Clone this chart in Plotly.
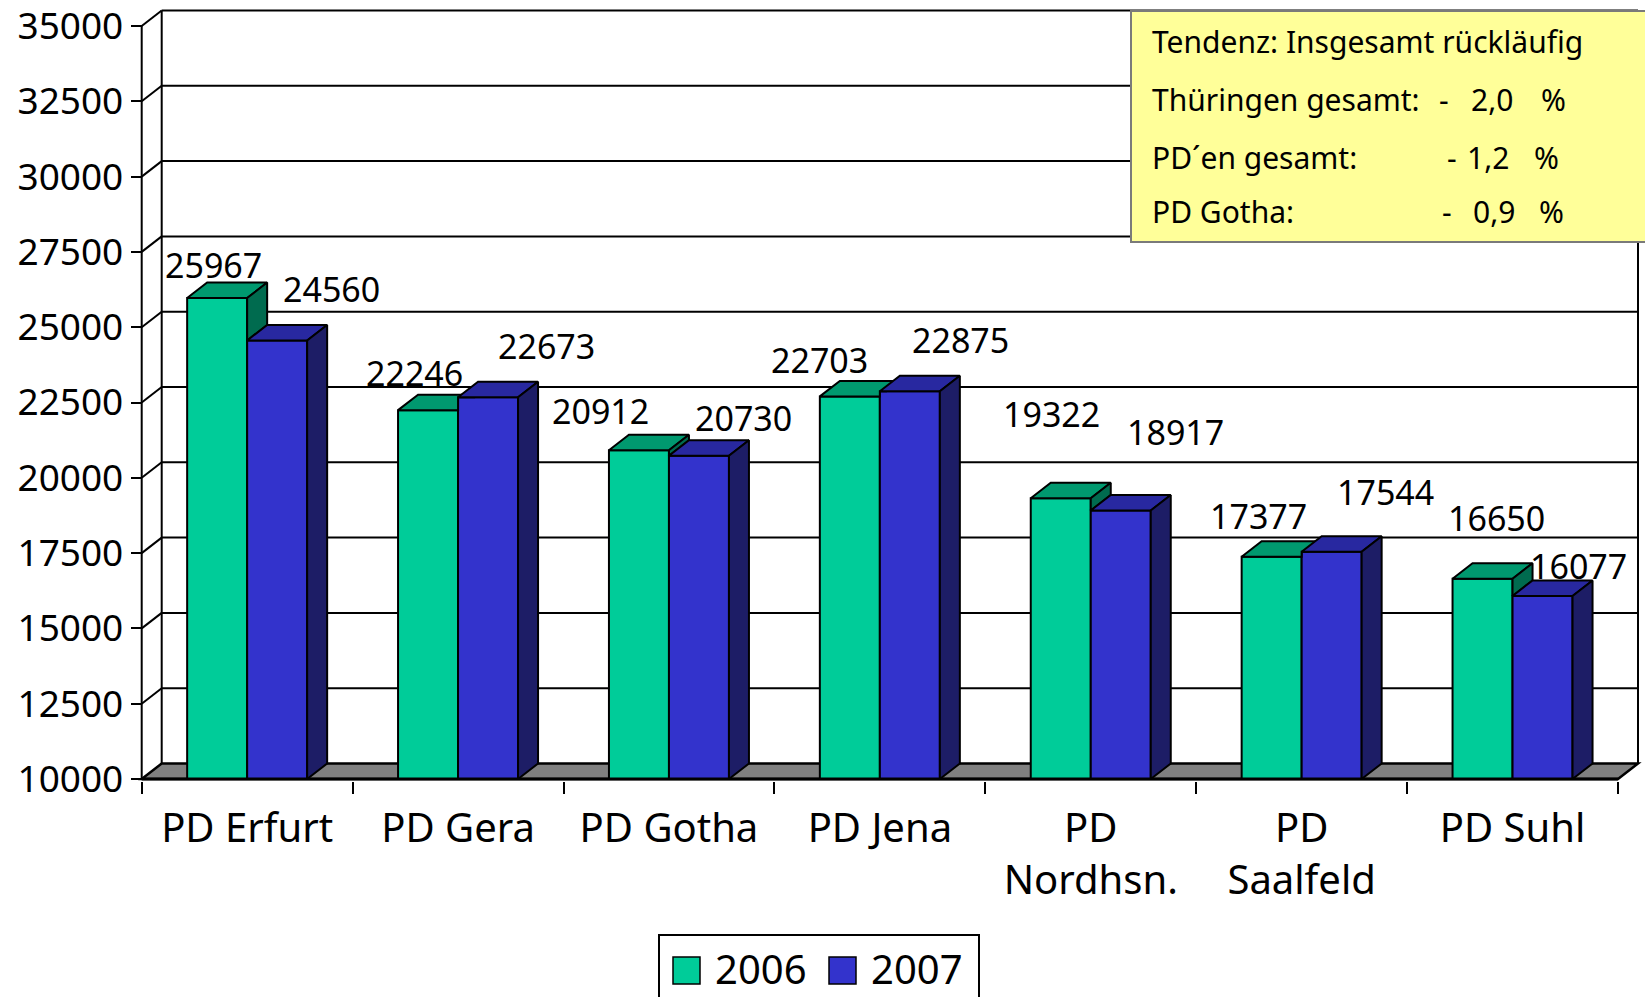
import plotly.graph_objects as go

# ---------------- data ----------------
categories = ["PD Erfurt", "PD Gera", "PD Gotha", "PD Jena", "PD<br>Nordhsn.", "PD<br>Saalfeld", "PD Suhl"]
values_2006 = [25967, 22246, 20912, 22703, 19322, 17377, 16650]
values_2007 = [24560, 22673, 20730, 22875, 18917, 17544, 16077]
series_names = ["2006", "2007"]
y_ticks = [10000, 12500, 15000, 17500, 20000, 22500, 25000, 27500, 30000, 32500, 35000]
y_tick_text = [str(v) for v in y_ticks]
box_labels = ["Tendenz: Insgesamt rückläufig", "Thüringen gesamt:", "PD´en gesamt:", "PD Gotha:"]
box_values = ["", "2,0", "1,2", "0,9"]

# label nudges (pixels) for the value labels, as placed in the original
lbl_dx_2006 = [-4, -14, -38, -30, -9, -13, 14]
lbl_dy_2006 = [33, 37, 39, 36, 84, 41, 61]
lbl_dx_2007 = [54, 58, 45, 51, 55, 54, 36]
lbl_dy_2007 = [51, 51, 38, 51, 78, 60, 30]

# ---------------- geometry ----------------
FONT = "Noto Sans"
W_FIG, H_FIG = 1645, 997
X0 = 141.7          # px of first category boundary
CW = 210.9          # px per category
Y10 = 779.0         # px of y_min on front plane
PPU = 0.03012       # px per value unit
DPX, DPY = 20.0, 15.5   # depth offset in px
L, R, T, B = 136.0, 1643.0, 6.0, 781.0
PW, PH = R - L, B - T

y_min, y_max = y_ticks[0], y_ticks[-1]
n = len(categories)
dx = DPX / CW
dy = DPY / PPU
bw = 60.0 / CW      # bar width in category units

x_range = [(L - X0) / CW, (R - X0) / CW]
y_range = [y_min - (B - Y10) / PPU, y_min + (Y10 - T) / PPU]

def pxx(px):
    return (px - L) / PW

def pxy(py):
    return (B - py) / PH

C06 = dict(front="#00CC99", top="#00996F", side="#006B4F")
C07 = dict(front="#3333CC", top="#2828A0", side="#1D1D66")

fig = go.Figure()

# front faces as real bars
centers = [i + 0.5 for i in range(n)]
fig.add_trace(go.Bar(x=[c - bw / 2 for c in centers], y=[v - y_min for v in values_2006], base=y_min,
                     width=bw, name=series_names[0], customdata=values_2006,
                     hovertemplate="%{customdata}<extra>2006</extra>",
                     marker=dict(color=C06["front"], line=dict(color="black", width=2)), showlegend=False))
fig.add_trace(go.Bar(x=[c + bw / 2 for c in centers], y=[v - y_min for v in values_2007], base=y_min,
                     width=bw, name=series_names[1], customdata=values_2007,
                     hovertemplate="%{customdata}<extra>2007</extra>",
                     marker=dict(color=C07["front"], line=dict(color="black", width=2)), showlegend=False))

# 3D top / side faces
g_top_x, g_top_y, g_side_x, g_side_y = [], [], [], []
b_top_x, b_top_y, b_side_x, b_side_y = [], [], [], []

def add_poly(xs, ys, pts):
    for (a, b) in pts:
        xs.append(a)
        ys.append(b)
    xs.append(pts[0][0]); ys.append(pts[0][1])
    xs.append(None); ys.append(None)

for i in range(n):
    c = centers[i]
    gL, gR, bR = c - bw, c, c + bw
    gt, bt = values_2006[i], values_2007[i]
    # green top (clipped by blue front face where blue is taller)
    if bt <= gt:
        pts = [(gL, gt), (gR, gt), (gR + dx, gt + dy), (gL + dx, gt + dy)]
    elif bt >= gt + dy:
        pts = [(gL, gt), (gR, gt), (gR, gt + dy), (gL + dx, gt + dy)]
    else:
        xi = gR + (bt - gt) / dy * dx
        pts = [(gL, gt), (gR, gt), (gR, bt), (xi, bt), (gR + dx, gt + dy), (gL + dx, gt + dy)]
    add_poly(g_top_x, g_top_y, pts)
    # green side (visible part above blue)
    if gt > bt:
        add_poly(g_side_x, g_side_y, [(gR, gt), (gR + dx, gt + dy), (gR + dx, bt + dy), (gR, bt)])
    # blue top and side
    add_poly(b_top_x, b_top_y, [(gR, bt), (bR, bt), (bR + dx, bt + dy), (gR + dx, bt + dy)])
    add_poly(b_side_x, b_side_y, [(bR, y_min), (bR, bt), (bR + dx, bt + dy), (bR + dx, y_min + dy)])

for xs, ys, col in [(g_top_x, g_top_y, C06["top"]), (g_side_x, g_side_y, C06["side"]),
                    (b_top_x, b_top_y, C07["top"]), (b_side_x, b_side_y, C07["side"])]:
    fig.add_trace(go.Scatter(x=xs, y=ys, mode="lines", fill="toself", fillcolor=col,
                             line=dict(color="black", width=2), hoverinfo="skip", showlegend=False))

# ---------------- walls, floor, gridlines ----------------
shapes = []
LW = 2
for v in y_ticks[1:]:
    shapes.append(dict(type="line", xref="x", yref="y", x0=dx, x1=n + dx, y0=v + dy, y1=v + dy,
                       line=dict(color="black", width=LW), layer="below"))
    shapes.append(dict(type="line", xref="x", yref="y", x0=0, x1=dx, y0=v, y1=v + dy,
                       line=dict(color="black", width=LW), layer="below"))
shapes.append(dict(type="line", xref="x", yref="y", x0=dx, x1=dx, y0=y_min + dy, y1=y_max + dy,
                   line=dict(color="black", width=LW), layer="below"))
shapes.append(dict(type="line", xref="x", yref="y", x0=n + dx, x1=n + dx, y0=y_min + dy, y1=y_max + dy,
                   line=dict(color="black", width=LW), layer="below"))
shapes.append(dict(type="line", xref="x", yref="y", x0=0, x1=0, y0=y_min, y1=y_max,
                   line=dict(color="black", width=LW), layer="below"))
shapes.append(dict(type="path", xref="x", yref="y",
                   path=f"M {0},{y_min} L {n},{y_min} L {n + dx},{y_min + dy} L {dx},{y_min + dy} Z",
                   fillcolor="#808080", line=dict(color="black", width=2.5), layer="below"))
shapes.append(dict(type="line", xref="x", yref="y", x0=0, x1=n, y0=y_min, y1=y_min,
                   line=dict(color="black", width=3), layer="above"))

# yellow info box
shapes.append(dict(type="rect", xref="paper", yref="paper", x0=pxx(1131), x1=pxx(1652), y0=pxy(242), y1=pxy(11),
                   fillcolor="#FFFF99", line=dict(color="#7A7A7A", width=2), layer="above"))

# legend (drawn)
shapes.append(dict(type="rect", xref="paper", yref="paper", x0=pxx(659), x1=pxx(979), y0=pxy(1005), y1=pxy(935),
                   fillcolor="white", line=dict(color="black", width=2), layer="above"))
for x0p, col in [(673, C06["front"]), (829, C07["front"])]:
    shapes.append(dict(type="rect", xref="paper", yref="paper", x0=pxx(x0p), x1=pxx(x0p + 27),
                       y0=pxy(984), y1=pxy(957), fillcolor=col, line=dict(color="black", width=1.5), layer="above"))

annotations = []
for txt, xl in [(series_names[0], 713), (series_names[1], 869)]:
    annotations.append(dict(text=txt, xref="paper", yref="paper", x=pxx(xl), y=pxy(968), xanchor="left",
                            yanchor="middle", showarrow=False, font=dict(family=FONT, size=40, color="black")))

# info box text
line_y = [41, 99, 157, 212]
BF = 30
for k, txt in enumerate(box_labels):
    annotations.append(dict(text=txt, xref="paper", yref="paper", x=pxx(1150), y=pxy(line_y[k]), xanchor="left",
                            yanchor="middle", showarrow=False, font=dict(family=FONT, size=BF, color="black")))
dash_x = [0, 1444, 1452, 1447]
num_right = [0, 1515, 1511, 1517]
pct_left = [0, 1539, 1532, 1537]
for k in range(1, 4):
    annotations.append(dict(text="-", xref="paper", yref="paper", x=pxx(dash_x[k]), y=pxy(line_y[k]),
                            xanchor="center", yanchor="middle", showarrow=False,
                            font=dict(family=FONT, size=BF, color="black")))
    annotations.append(dict(text=box_values[k], xref="paper", yref="paper", x=pxx(num_right[k]), y=pxy(line_y[k]),
                            xanchor="right", yanchor="middle", showarrow=False,
                            font=dict(family=FONT, size=BF, color="black")))
    annotations.append(dict(text="%", xref="paper", yref="paper", x=pxx(pct_left[k]), y=pxy(line_y[k]),
                            xanchor="left", yanchor="middle", showarrow=False,
                            font=dict(family=FONT, size=BF, color="black")))

# value labels
for vals, off, ddx, ddy in [(values_2006, -bw / 2, lbl_dx_2006, lbl_dy_2006),
                            (values_2007, bw / 2, lbl_dx_2007, lbl_dy_2007)]:
    for i, v in enumerate(vals):
        annotations.append(dict(text=str(v), xref="x", yref="y", x=centers[i] + off, y=v,
                                xshift=ddx[i], yshift=ddy[i], xanchor="center", yanchor="middle",
                                showarrow=False, font=dict(family=FONT, size=34, color="black")))

fig.update_layout(
    width=W_FIG, height=H_FIG, autosize=False,
    margin=dict(l=L, r=W_FIG - R, t=T, b=H_FIG - B, pad=0, autoexpand=False),
    paper_bgcolor="white", plot_bgcolor="white",
    barmode="overlay", showlegend=False,
    shapes=shapes, annotations=annotations,
    xaxis=dict(range=x_range, domain=[0, 1], tickmode="array", tickvals=centers, ticktext=categories,
               ticks="", showgrid=False, zeroline=False, showline=False, automargin=False,
               tickfont=dict(family=FONT, size=40, color="black"), ticklabelstandoff=20,
               minor=dict(tickmode="linear", tick0=0, dtick=1, ticks="outside", ticklen=12,
                          tickwidth=2, tickcolor="black", showgrid=False)),
    yaxis=dict(range=y_range, anchor="free", position=(X0 - L) / PW, tickmode="array", tickvals=y_ticks,
               ticktext=y_tick_text, ticklabeloverflow="allow",
               ticks="outside", ticklen=11, tickwidth=2, tickcolor="black", showgrid=False,
               zeroline=False, showline=False, automargin=False,
               tickfont=dict(family=FONT, size=37, color="black")),
    font=dict(family=FONT, color="black"),
)

fig.write_html("out.html", config={"displayModeBar": False},
               post_script="document.body.style.margin='0px';document.body.style.overflow='hidden';")
